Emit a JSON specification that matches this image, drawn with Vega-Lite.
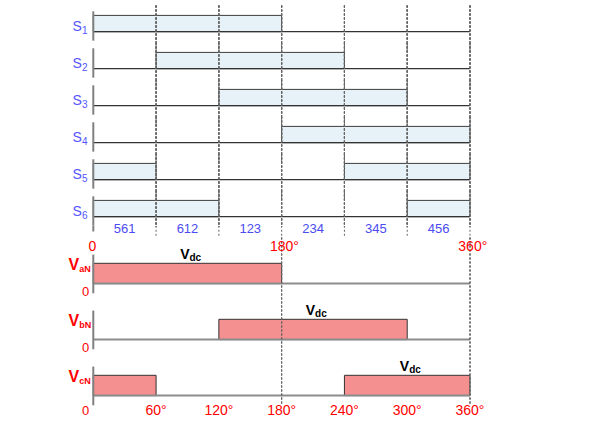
{
  "$schema": "https://vega.github.io/schema/vega-lite/v6.json",
  "background": "#ffffff",
  "padding": {"top": 4.5, "left": 0, "right": 0, "bottom": 0},
  "spacing": 0,
  "config": {
    "view": {"stroke": null},
    "text": {"font": "Liberation Sans", "baseline": "alphabetic"}
  },
  "vconcat": [
    {
      "data": {
        "values": [
          {"sig": "S1", "kind": "row", "n": "1", "grid": [60, 120, 180, 240, 300, 360]},
          {"sig": "S2", "kind": "row", "n": "2", "grid": [60, 120, 180, 240, 300, 360]},
          {"sig": "S3", "kind": "row", "n": "3", "grid": [60, 120, 180, 240, 300, 360]},
          {"sig": "S4", "kind": "row", "n": "4", "grid": [60, 120, 180, 240, 300, 360]},
          {"sig": "S5", "kind": "row", "n": "5", "grid": [60, 120, 180, 240, 300, 360]},
          {"sig": "S6", "kind": "row", "n": "6", "grid": [60, 120, 180, 240, 300, 360]},
          {"sig": "S1", "kind": "on", "start": 0, "end": 180},
          {"sig": "S2", "kind": "on", "start": 60, "end": 240},
          {"sig": "S3", "kind": "on", "start": 120, "end": 300},
          {"sig": "S4", "kind": "on", "start": 180, "end": 360},
          {"sig": "S5", "kind": "on", "start": 0, "end": 60},
          {"sig": "S5", "kind": "on", "start": 240, "end": 360},
          {"sig": "S6", "kind": "on", "start": 0, "end": 120},
          {"sig": "S6", "kind": "on", "start": 300, "end": 360},
          {"sig": "S6", "kind": "sector", "mid": 30, "label": "561"},
          {"sig": "S6", "kind": "sector", "mid": 90, "label": "612"},
          {"sig": "S6", "kind": "sector", "mid": 150, "label": "123"},
          {"sig": "S6", "kind": "sector", "mid": 210, "label": "234"},
          {"sig": "S6", "kind": "sector", "mid": 270, "label": "345"},
          {"sig": "S6", "kind": "sector", "mid": 330, "label": "456"}
        ]
      },
      "facet": {
        "row": {"field": "sig", "type": "nominal", "header": null, "sort": ["S1", "S2", "S3", "S4", "S5", "S6"]}
      },
      "spacing": 0,
      "bounds": "flush",
      "spec": {
        "width": 607,
        "height": 36.5,
        "layer": [
          {
            "transform": [{"filter": "datum.kind === 'on'"}],
            "mark": {"type": "rect", "fill": "#e6f2f7", "stroke": "#3c3c3c", "strokeWidth": 1},
            "encoding": {
              "x": {"field": "start", "type": "quantitative", "scale": {"domain": [-89.16, 490.93], "nice": false, "zero": false}, "axis": null},
              "x2": {"field": "end"},
              "y": {"datum": 0, "type": "quantitative", "scale": {"domain": [-0.632, 1.607], "nice": false, "zero": false}, "axis": null},
              "y2": {"datum": 1}
            }
          },
          {
            "transform": [{"filter": "datum.kind === 'row'"}],
            "mark": {"type": "rule", "color": "#333333", "strokeWidth": 1.2},
            "encoding": {
              "x": {"datum": 0, "type": "quantitative", "scale": {"domain": [-89.16, 490.93], "nice": false, "zero": false}, "axis": null},
              "x2": {"datum": 360},
              "y": {"datum": 0, "type": "quantitative", "scale": {"domain": [-0.632, 1.607], "nice": false, "zero": false}, "axis": null}
            }
          },
          {
            "transform": [{"filter": "datum.kind === 'row'"}],
            "mark": {"type": "rule", "color": "#808080", "strokeWidth": 2},
            "encoding": {
              "x": {"datum": 0, "type": "quantitative", "scale": {"domain": [-89.16, 490.93], "nice": false, "zero": false}, "axis": null},
              "y": {"datum": -0.55, "type": "quantitative", "scale": {"domain": [-0.632, 1.607], "nice": false, "zero": false}, "axis": null},
              "y2": {"datum": 1.25}
            }
          },
          {
            "transform": [{"filter": "datum.kind === 'row' && datum.sig === 'S6'"}],
            "mark": {"type": "rule", "color": "#808080", "strokeWidth": 2},
            "encoding": {
              "x": {"datum": 0, "type": "quantitative", "scale": {"domain": [-89.16, 490.93], "nice": false, "zero": false}, "axis": null},
              "y": {"datum": -0.907, "type": "quantitative", "scale": {"domain": [-0.632, 1.607], "nice": false, "zero": false}, "axis": null},
              "y2": {"datum": -0.55}
            }
          },
          {
            "transform": [{"filter": "datum.kind === 'row'"}, {"flatten": ["grid"]}],
            "mark": {"type": "rule", "color": "#666666", "strokeWidth": 1, "strokeDash": [2, 2]},
            "encoding": {
              "x": {"field": "grid", "type": "quantitative", "scale": {"domain": [-89.16, 490.93], "nice": false, "zero": false}, "axis": null}
            }
          },
          {
            "transform": [{"filter": "datum.kind === 'row' && datum.sig === 'S6'"}, {"flatten": ["grid"]}],
            "mark": {"type": "rule", "color": "#666666", "strokeWidth": 1, "strokeDash": [2, 2]},
            "encoding": {
              "x": {"field": "grid", "type": "quantitative", "scale": {"domain": [-89.16, 490.93], "nice": false, "zero": false}, "axis": null},
              "y": {"datum": -1.17, "type": "quantitative", "scale": {"domain": [-0.632, 1.607], "nice": false, "zero": false}, "axis": null},
              "y2": {"datum": -0.632}
            }
          },
          {
            "transform": [{"filter": "datum.kind === 'row'"}],
            "mark": {"type": "text", "text": "S", "align": "right", "dx": -11.5, "dy": -1, "fontSize": 14, "color": "#5555ff"},
            "encoding": {
              "x": {"datum": 0, "type": "quantitative", "scale": {"domain": [-89.16, 490.93], "nice": false, "zero": false}, "axis": null},
              "y": {"datum": 0, "type": "quantitative", "scale": {"domain": [-0.632, 1.607], "nice": false, "zero": false}, "axis": null}
            }
          },
          {
            "transform": [{"filter": "datum.kind === 'row'"}],
            "mark": {"type": "text", "align": "left", "dx": -11.3, "dy": 2.6, "fontSize": 10, "color": "#5555ff"},
            "encoding": {
              "x": {"datum": 0, "type": "quantitative", "scale": {"domain": [-89.16, 490.93], "nice": false, "zero": false}, "axis": null},
              "y": {"datum": 0, "type": "quantitative", "scale": {"domain": [-0.632, 1.607], "nice": false, "zero": false}, "axis": null},
              "text": {"field": "n"}
            }
          },
          {
            "transform": [{"filter": "datum.kind === 'sector'"}],
            "mark": {"type": "text", "align": "center", "dy": 16.1, "fontSize": 13, "color": "#4b4bf0"},
            "encoding": {
              "x": {"field": "mid", "type": "quantitative", "scale": {"domain": [-89.16, 490.93], "nice": false, "zero": false}, "axis": null},
              "y": {"datum": 0, "type": "quantitative", "scale": {"domain": [-0.632, 1.607], "nice": false, "zero": false}, "axis": null},
              "text": {"field": "label"}
            }
          }
        ]
      }
    },
    {
      "data": {
        "values": [
          {"sig": "VaN", "kind": "row", "sub": "aN", "grid": [180, 360]},
          {"sig": "VbN", "kind": "row", "sub": "bN", "grid": [180, 360]},
          {"sig": "VcN", "kind": "row", "sub": "cN", "grid": [180, 360]},
          {"sig": "VaN", "kind": "on", "start": 0, "end": 180},
          {"sig": "VbN", "kind": "on", "start": 120, "end": 300},
          {"sig": "VcN", "kind": "on", "start": 0, "end": 60},
          {"sig": "VcN", "kind": "on", "start": 240, "end": 360},
          {"sig": "VaN", "kind": "vdc", "mid": 90},
          {"sig": "VbN", "kind": "vdc", "mid": 210},
          {"sig": "VcN", "kind": "vdc", "mid": 300},
          {"sig": "VaN", "kind": "zero", "label": "0"},
          {"sig": "VbN", "kind": "zero", "label": "0"},
          {"sig": "VaN", "kind": "toplab0", "deg": 0, "label": "0"},
          {"sig": "VaN", "kind": "toplab", "deg": 180, "label": "180°"},
          {"sig": "VaN", "kind": "toplab", "deg": 360, "label": "360°"},
          {"sig": "VcN", "kind": "deg0", "deg": 0, "label": "0"},
          {"sig": "VcN", "kind": "deg", "deg": 60, "label": "60°"},
          {"sig": "VcN", "kind": "deg", "deg": 120, "label": "120°"},
          {"sig": "VcN", "kind": "deg", "deg": 180, "label": "180°"},
          {"sig": "VcN", "kind": "deg", "deg": 240, "label": "240°"},
          {"sig": "VcN", "kind": "deg", "deg": 300, "label": "300°"},
          {"sig": "VcN", "kind": "deg", "deg": 360, "label": "360°"}
        ]
      },
      "facet": {
        "row": {"field": "sig", "type": "nominal", "header": null, "sort": ["VaN", "VbN", "VcN"]}
      },
      "spacing": 0,
      "bounds": "flush",
      "spec": {
        "width": 607,
        "height": 55.8,
        "layer": [
          {
            "transform": [{"filter": "datum.kind === 'on'"}],
            "mark": {"type": "rect", "fill": "#f59090", "stroke": "#333333", "strokeWidth": 1},
            "encoding": {
              "x": {"field": "start", "type": "quantitative", "scale": {"domain": [-89.16, 490.93], "nice": false, "zero": false}, "axis": null},
              "x2": {"field": "end"},
              "y": {"datum": 0, "type": "quantitative", "scale": {"domain": [-0.478, 2.271], "nice": false, "zero": false}, "axis": null},
              "y2": {"datum": 1}
            }
          },
          {
            "transform": [{"filter": "datum.kind === 'row'"}],
            "mark": {"type": "rule", "color": "#8c8c8c", "strokeWidth": 2},
            "encoding": {
              "x": {"datum": 0, "type": "quantitative", "scale": {"domain": [-89.16, 490.93], "nice": false, "zero": false}, "axis": null},
              "x2": {"datum": 360},
              "y": {"datum": 0, "type": "quantitative", "scale": {"domain": [-0.478, 2.271], "nice": false, "zero": false}, "axis": null}
            }
          },
          {
            "transform": [{"filter": "datum.kind === 'row'"}],
            "mark": {"type": "rule", "color": "#808080", "strokeWidth": 2},
            "encoding": {
              "x": {"datum": 0, "type": "quantitative", "scale": {"domain": [-89.16, 490.93], "nice": false, "zero": false}, "axis": null},
              "y": {"datum": -0.478, "type": "quantitative", "scale": {"domain": [-0.478, 2.271], "nice": false, "zero": false}, "axis": null},
              "y2": {"datum": 1.43}
            }
          },
          {
            "transform": [{"filter": "datum.kind === 'row'"}, {"flatten": ["grid"]}],
            "mark": {"type": "rule", "color": "#666666", "strokeWidth": 1, "strokeDash": [2, 2]},
            "encoding": {
              "x": {"field": "grid", "type": "quantitative", "scale": {"domain": [-89.16, 490.93], "nice": false, "zero": false}, "axis": null}
            }
          },
          {
            "transform": [{"filter": "datum.kind === 'row'"}],
            "mark": {"type": "text", "text": "V", "align": "right", "dx": -14, "dy": -13.5, "fontSize": 16, "fontWeight": "bold", "color": "#ff0000"},
            "encoding": {
              "x": {"datum": 0, "type": "quantitative", "scale": {"domain": [-89.16, 490.93], "nice": false, "zero": false}, "axis": null},
              "y": {"datum": 0, "type": "quantitative", "scale": {"domain": [-0.478, 2.271], "nice": false, "zero": false}, "axis": null}
            }
          },
          {
            "transform": [{"filter": "datum.kind === 'row'"}],
            "mark": {"type": "text", "align": "left", "dx": -14, "dy": -11.7, "fontSize": 9, "fontWeight": "bold", "color": "#ff0000"},
            "encoding": {
              "x": {"datum": 0, "type": "quantitative", "scale": {"domain": [-89.16, 490.93], "nice": false, "zero": false}, "axis": null},
              "y": {"datum": 0, "type": "quantitative", "scale": {"domain": [-0.478, 2.271], "nice": false, "zero": false}, "axis": null},
              "text": {"field": "sub"}
            }
          },
          {
            "transform": [{"filter": "datum.kind === 'zero'"}],
            "mark": {"type": "text", "align": "right", "dx": -4, "dy": 12.5, "fontSize": 13, "color": "#ff0000"},
            "encoding": {
              "x": {"datum": 0, "type": "quantitative", "scale": {"domain": [-89.16, 490.93], "nice": false, "zero": false}, "axis": null},
              "y": {"datum": 0, "type": "quantitative", "scale": {"domain": [-0.478, 2.271], "nice": false, "zero": false}, "axis": null},
              "text": {"field": "label"}
            }
          },
          {
            "transform": [{"filter": "datum.kind === 'vdc'"}],
            "mark": {"type": "text", "text": "V", "align": "right", "dx": 2, "dy": -4.5, "fontSize": 14, "fontWeight": "bold", "color": "#000000"},
            "encoding": {
              "x": {"field": "mid", "type": "quantitative", "scale": {"domain": [-89.16, 490.93], "nice": false, "zero": false}, "axis": null},
              "y": {"datum": 1, "type": "quantitative", "scale": {"domain": [-0.478, 2.271], "nice": false, "zero": false}, "axis": null}
            }
          },
          {
            "transform": [{"filter": "datum.kind === 'vdc'"}],
            "mark": {"type": "text", "text": "dc", "align": "left", "dx": 2, "dy": -2.3, "fontSize": 10, "fontWeight": "bold", "color": "#000000"},
            "encoding": {
              "x": {"field": "mid", "type": "quantitative", "scale": {"domain": [-89.16, 490.93], "nice": false, "zero": false}, "axis": null},
              "y": {"datum": 1, "type": "quantitative", "scale": {"domain": [-0.478, 2.271], "nice": false, "zero": false}, "axis": null}
            }
          },
          {
            "transform": [{"filter": "datum.kind === 'toplab'"}],
            "mark": {"type": "text", "align": "center", "dx": 2.8, "dy": -12.6, "fontSize": 14, "color": "#ff0000"},
            "encoding": {
              "x": {"field": "deg", "type": "quantitative", "scale": {"domain": [-89.16, 490.93], "nice": false, "zero": false}, "axis": null},
              "y": {"datum": 1, "type": "quantitative", "scale": {"domain": [-0.478, 2.271], "nice": false, "zero": false}, "axis": null},
              "text": {"field": "label"}
            }
          },
          {
            "transform": [{"filter": "datum.kind === 'toplab0'"}],
            "mark": {"type": "text", "align": "center", "dx": -1, "dy": -12.6, "fontSize": 14, "color": "#ff0000"},
            "encoding": {
              "x": {"field": "deg", "type": "quantitative", "scale": {"domain": [-89.16, 490.93], "nice": false, "zero": false}, "axis": null},
              "y": {"datum": 1, "type": "quantitative", "scale": {"domain": [-0.478, 2.271], "nice": false, "zero": false}, "axis": null},
              "text": {"field": "label"}
            }
          },
          {
            "transform": [{"filter": "datum.kind === 'deg'"}],
            "mark": {"type": "text", "align": "center", "dy": 19, "fontSize": 14, "color": "#ff0000"},
            "encoding": {
              "x": {"field": "deg", "type": "quantitative", "scale": {"domain": [-89.16, 490.93], "nice": false, "zero": false}, "axis": null},
              "y": {"datum": 0, "type": "quantitative", "scale": {"domain": [-0.478, 2.271], "nice": false, "zero": false}, "axis": null},
              "text": {"field": "label"}
            }
          },
          {
            "transform": [{"filter": "datum.kind === 'deg0'"}],
            "mark": {"type": "text", "align": "right", "dx": -4, "dy": 19, "fontSize": 13, "color": "#ff0000"},
            "encoding": {
              "x": {"field": "deg", "type": "quantitative", "scale": {"domain": [-89.16, 490.93], "nice": false, "zero": false}, "axis": null},
              "y": {"datum": 0, "type": "quantitative", "scale": {"domain": [-0.478, 2.271], "nice": false, "zero": false}, "axis": null},
              "text": {"field": "label"}
            }
          }
        ]
      }
    }
  ]
}
